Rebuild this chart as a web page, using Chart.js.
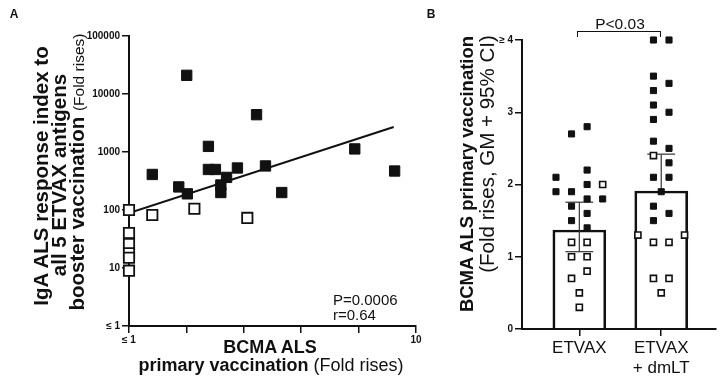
<!DOCTYPE html>
<html>
<head>
<meta charset="utf-8">
<script src="https://cdn.jsdelivr.net/npm/chart.js@4.4.0/dist/chart.umd.min.js"></script>
<style>
  body { margin: 0; background: #fff; font-family: Arial, "Liberation Sans", sans-serif; color: #111; }
  #wrap { position: relative; width: 722px; height: 383px; overflow: hidden; }
  canvas { position: absolute; top: 0; }
  #chartA { left: 0; }
  #chartB { left: 430px; }
  .t { position: absolute; white-space: nowrap; line-height: 1; }
  .rot { transform: translate(-50%, -50%) rotate(-90deg); }
  .ctr { transform: translate(-50%, -50%); }
  .bracket { position: absolute; left: 577px; top: 31px; width: 82px; height: 5px;
             border: 1.5px solid #111; border-bottom: none; }
</style>
</head>
<body>
<div id="wrap">
  <canvas id="chartA" width="430" height="383"></canvas>
  <canvas id="chartB" width="292" height="383"></canvas>

  <div class="t ctr" style="left:14px;top:14px;font-size:12px;font-weight:bold">A</div>
  <div class="t ctr" style="left:431px;top:14px;font-size:12px;font-weight:bold">B</div>

  <div class="t rot" style="left:41px;top:176px;font-size:20.5px;font-weight:bold">IgA ALS response index to</div>
  <div class="t rot" style="left:59px;top:175px;font-size:20.5px;font-weight:bold">all 5 ETVAX antigens</div>
  <div class="t rot" style="left:77px;top:172px;font-size:20.5px"><b>booster vaccination</b> <span style="font-size:15.5px">(Fold rises)</span></div>

  <div class="t ctr" style="left:270px;top:347px;font-size:18px;font-weight:bold">BCMA ALS</div>
  <div class="t ctr" style="left:271px;top:365px;font-size:18px"><b>primary vaccination</b> (Fold rises)</div>

  <div class="t" style="left:333px;top:292px;font-size:15px">P=0.0006</div>
  <div class="t" style="left:333px;top:307px;font-size:15px">r=0.64</div>

  <div class="t rot" style="left:467px;top:174px;font-size:18.5px;font-weight:bold">BCMA ALS primary vaccination</div>
  <div class="t rot" style="left:487px;top:154px;font-size:20.5px">(Fold rises, GM + 95% CI)</div>

  <div class="bracket"></div>
  <div class="t ctr" style="left:620px;top:24px;font-size:15.5px">P&lt;0.03</div>
</div>

<script>
// Panel A: BCMA ALS fold rise (x) vs IgA ALS response index (y)
const aFilledX = [2.81, 5.0, 3.49, 1.73, 2.56, 2.83, 3.49, 3.71, 4.40, 4.06, 3.88, 3.88, 5.28, 5.79, 8.08, 9.33];
const aFilledY = [21000, 4400, 1250, 410, 250, 190, 500, 500, 530, 365, 270, 200, 575, 200, 1130, 470];
const aOpenX = [1, 1, 1, 1, 1, 1, 1.73, 3.05, 4.71];
const aOpenY = [100, 40, 26, 18, 15, 9, 82, 105, 73];
const fitX = [1, 9.3];
const fitY = [89, 2700];
const aTicksX = [1, 2.8, 4.6, 6.4, 8.2, 10];
const aTicksY = [1, 10, 100, 1000, 10000, 100000];

// Panel B: fold rises per group, GM with 95% CI
const groups = [['ETVAX'], ['ETVAX', '+ dmLT']];
const gm = [1.37, 1.91];
const ciLow = [1.07, 1.91];
const ciHigh = [1.755, 2.42];
const etvaxFilled = [2.7, 2.8, 2.1, 2.2, 1.9, 1.9, 2.0, 1.8, 1.8, 1.7, 1.6, 1.5, 1.4];
const etvaxFilledCol = [-1, 1, -3, 1, -3, -1, 1, 1, 3, -1, 1, -1, 1];
const etvaxOpen = [2.0, 1.2, 1.2, 1.0, 1.0, 0.8, 0.7, 0.5, 0.3];
const etvaxOpenCol = [3, -1, 1, -1, 1, 1, -1, 0, 0];
const dmltFilled = [4.0, 4.0, 3.5, 3.4, 3.3, 3.1, 3.0, 2.9, 2.6, 2.5, 2.3, 2.1, 2.1, 1.9, 1.7, 1.6, 1.5];
const dmltFilledCol = [-1, 1, -1, 1, -1, -1, 1, -1, -1, 1, 1, -1, 1, 0, -1, 1, -1];
const dmltOpen = [2.4, 1.3, 1.3, 1.2, 1.2, 0.7, 0.7, 0.5];
const dmltOpenCol = [-1, -3, 3, -1, 1, -1, 1, 0];

Chart.defaults.font.family = 'Arial, "Liberation Sans", sans-serif';
Chart.defaults.color = '#111';

const ink = '#111';
const axisGrid = { drawOnChartArea: false, tickLength: 7, color: ink, lineWidth: 1.5, offset: false };
const axisBorder = { color: ink, width: 2 };
const tickFont = { size: 10, weight: 'bold' };

function pairs(xs, ys) {
  return xs.map((x, i) => ({ x: x, y: ys[i] }));
}

new Chart(document.getElementById('chartA'), {
  type: 'scatter',
  data: {
    datasets: [
      { type: 'line', data: pairs(fitX, fitY), borderColor: ink, borderWidth: 2,
        pointRadius: 0, order: 3 },
      { data: pairs(aOpenX, aOpenY), pointStyle: 'rect', pointRadius: 7.3,
        backgroundColor: '#fff', borderColor: ink, borderWidth: 1.8, order: 2, clip: false },
      { data: pairs(aFilledX, aFilledY), pointStyle: 'rect', pointRadius: 7.3,
        backgroundColor: ink, borderColor: ink, borderWidth: 1, order: 1, clip: false }
    ]
  },
  options: {
    responsive: false,
    animation: false,
    layout: { padding: { top: 36, right: 14, left: 0, bottom: 0 } },
    plugins: { legend: { display: false }, tooltip: { enabled: false } },
    scales: {
      x: {
        type: 'linear', min: 1, max: 10,
        afterFit: s => { s.height = 57; },
        afterBuildTicks: s => { s.ticks = aTicksX.map(v => ({ value: v })); },
        ticks: {
          callback: v => v === 1 ? '≤ 1' : (v === 10 ? '10' : ''),
          font: tickFont, padding: 1, maxRotation: 0, autoSkip: false
        },
        grid: axisGrid, border: axisBorder
      },
      y: {
        type: 'logarithmic', min: 1, max: 100000,
        afterFit: s => { s.width = 129; },
        afterBuildTicks: s => { s.ticks = aTicksY.map(v => ({ value: v })); },
        ticks: {
          callback: v => v === 1 ? '≤ 1' : String(v),
          font: tickFont, padding: 2, autoSkip: false
        },
        grid: axisGrid, border: axisBorder
      }
    }
  }
});

// x position of each jittered point: group centre plus column step
const colStep = 0.095;
function jitter(group, vals, cols) {
  return vals.map((v, i) => ({ x: group + cols[i] * colStep, y: v }));
}

const capHalf = 0.17;
const errorSets = [];
gm.forEach((g, i) => {
  const cx = i + 1;
  errorSets.push([{ x: cx, y: ciLow[i] }, { x: cx, y: ciHigh[i] }]);
  errorSets.push([{ x: cx - capHalf, y: ciHigh[i] }, { x: cx + capHalf, y: ciHigh[i] }]);
  if (ciLow[i] < g) {
    errorSets.push([{ x: cx - capHalf, y: ciLow[i] }, { x: cx + capHalf, y: ciLow[i] }]);
  }
});

new Chart(document.getElementById('chartB'), {
  type: 'scatter',
  data: {
    datasets: [
      { type: 'bar', data: gm.map((g, i) => ({ x: i + 1, y: g })), barThickness: 53,
        backgroundColor: 'rgba(255,255,255,0)', borderColor: ink, borderWidth: 2, order: 5 },
      ...errorSets.map(seg => ({
        data: seg, showLine: true, pointRadius: 0, borderColor: '#333', borderWidth: 1.2, order: 4
      })),
      { data: jitter(1, etvaxOpen, etvaxOpenCol).concat(jitter(2, dmltOpen, dmltOpenCol)),
        pointStyle: 'rect', pointRadius: 4.3, backgroundColor: '#fff', borderColor: ink,
        borderWidth: 1.6, order: 2, clip: false },
      { data: jitter(1, etvaxFilled, etvaxFilledCol).concat(jitter(2, dmltFilled, dmltFilledCol)),
        pointStyle: 'rect', pointRadius: 4.3, backgroundColor: ink, borderColor: ink,
        borderWidth: 1, order: 1, clip: false }
    ]
  },
  options: {
    responsive: false,
    animation: false,
    layout: { padding: { top: 40, right: 5, left: 0, bottom: 0 } },
    plugins: { legend: { display: false }, tooltip: { enabled: false } },
    scales: {
      x: {
        type: 'linear', min: 0.3, max: 2.67, offset: false,
        afterFit: s => { s.height = 54; },
        afterBuildTicks: s => { s.ticks = groups.map((g, i) => ({ value: i + 1 })); },
        ticks: {
          callback: v => groups[v - 1],
          font: { size: 17 }, padding: 2, maxRotation: 0, autoSkip: false
        },
        grid: axisGrid, border: axisBorder
      },
      y: {
        min: 0, max: 4,
        afterFit: s => { s.width = 92; },
        ticks: {
          stepSize: 1,
          callback: v => v === 4 ? '≥ 4' : String(v),
          font: tickFont, padding: 2
        },
        grid: axisGrid, border: axisBorder
      }
    }
  }
});
</script>
</body>
</html>
